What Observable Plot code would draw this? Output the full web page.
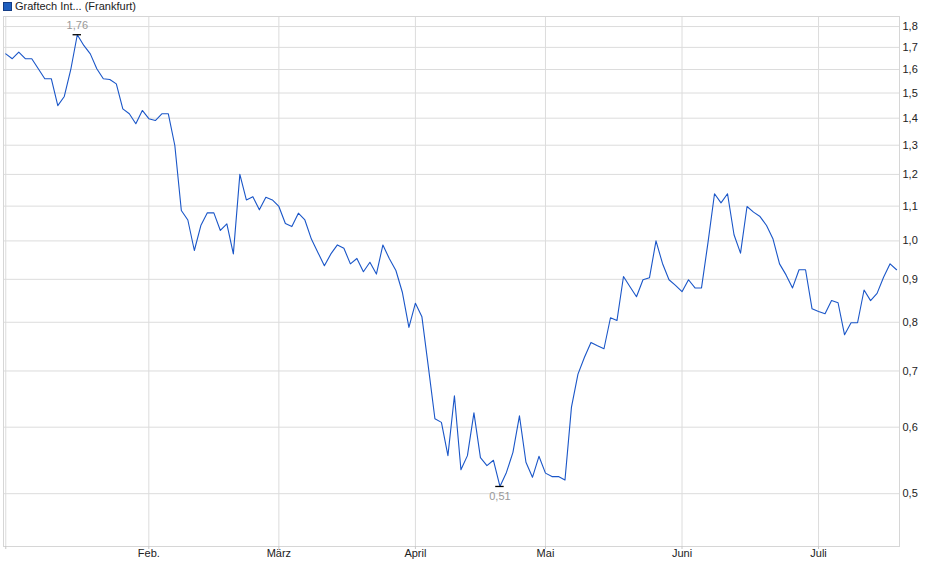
<!DOCTYPE html>
<html>
<head>
<meta charset="utf-8">
<script src="https://cdn.jsdelivr.net/npm/d3@7"></script>
<script src="https://cdn.jsdelivr.net/npm/@observablehq/plot@0.6"></script>
<style>
  html, body { margin: 0; padding: 0; background: #fff; overflow: hidden; }
  body { font-family: "Liberation Sans", Arial, sans-serif; }
  #legend { position: relative; height: 14px; font-size: 11px; color: #222; }
  #legend .sw { position: absolute; left: 3px; top: 2px; width: 7px; height: 7px; background: #1f5fbf; border: 1px solid #143c85; }
  #legend .lb { position: absolute; left: 15px; top: 0px; line-height: 12px; white-space: nowrap; }
</style>
</head>
<body>
<div id="legend"><span class="sw"></span><span class="lb">Graftech Int... (Frankfurt)</span></div>
<div id="chart"></div>
<script>
// Daily closing prices (EUR), trading days from early January to mid July
const prices = [
  1.670, 1.648, 1.678, 1.648, 1.648, 1.603, 1.560, 1.560, 1.449, 1.486,
  1.600, 1.760, 1.709, 1.670, 1.603, 1.560, 1.557, 1.538, 1.436, 1.417,
  1.379, 1.430, 1.398, 1.391, 1.417, 1.417, 1.299, 1.087, 1.059, 0.974,
  1.043, 1.080, 1.080, 1.029, 1.048, 0.965, 1.200, 1.119, 1.129, 1.089,
  1.127, 1.119, 1.099, 1.049, 1.040, 1.079, 1.059, 1.005, 0.969, 0.934,
  0.965, 0.989, 0.980, 0.939, 0.953, 0.919, 0.943, 0.913, 0.989, 0.952,
  0.922, 0.868, 0.789, 0.843, 0.812, 0.707, 0.614, 0.608, 0.555, 0.654,
  0.534, 0.555, 0.624, 0.552, 0.540, 0.548, 0.510, 0.530, 0.560, 0.619,
  0.545, 0.523, 0.554, 0.529, 0.524, 0.524, 0.519, 0.634, 0.694, 0.727,
  0.757, 0.750, 0.744, 0.810, 0.804, 0.907, 0.882, 0.858, 0.899, 0.904,
  1.000, 0.940, 0.899, 0.885, 0.870, 0.899, 0.879, 0.879, 0.996, 1.138,
  1.110, 1.138, 1.017, 0.967, 1.099, 1.082, 1.069, 1.043, 1.005, 0.939,
  0.911, 0.879, 0.924, 0.924, 0.830, 0.824, 0.819, 0.849, 0.844, 0.773,
  0.799, 0.799, 0.874, 0.849, 0.866, 0.905, 0.939, 0.924
];

// Month tick labels and the trading-day index of their first session
const monthLabels = ["Feb.", "März", "April", "Mai", "Juni", "Juli"];
const monthIndex = [22, 42, 63, 83, 104, 125];

// Y axis tick values
const yTicks = [0.5, 0.6, 0.7, 0.8, 0.9, 1.0, 1.1, 1.2, 1.3, 1.4, 1.5, 1.6, 1.7, 1.8];

const data = prices.map((v, i) => ({ i, v }));
const iMax = d3.maxIndex(prices);
const iMin = d3.minIndex(prices);
const fmt1 = v => v.toFixed(1).replace(".", ",");
const fmt2 = v => v.toFixed(2).replace(".", ",");
const xTicks = [0, ...monthIndex];
const xLabel = d => { const k = monthIndex.indexOf(d); return k < 0 ? "" : monthLabels[k]; };

const chart = Plot.plot({
  width: 940,
  height: 565,
  marginTop: 2,
  marginBottom: 33,
  marginLeft: 3,
  marginRight: 41,
  style: { fontFamily: "Liberation Sans, Arial, sans-serif", fontSize: "11px", color: "#222", background: "#fff", overflow: "visible" },
  x: { domain: [-0.35, prices.length - 1 + 0.45], axis: null, label: null },
  y: { type: "log", domain: [0.4326, 1.8502], axis: null, label: null },
  marks: [
    Plot.gridX(xTicks, { stroke: "#dcdcdc", strokeOpacity: 1 }),
    Plot.gridY(yTicks, { stroke: "#dcdcdc", strokeOpacity: 1 }),
    Plot.frame({ stroke: "#d6d6d6" }),
    Plot.axisX(xTicks, { label: null, tickFormat: xLabel, tickSize: 3, tickPadding: 0, stroke: "#c8c8c8", fill: "#222" }),
    Plot.axisY(yTicks, { label: null, anchor: "right", tickFormat: fmt1, tickSize: 0, tickPadding: 3, fill: "#222" }),
    Plot.line(data, { x: "i", y: "v", stroke: "#1a56c8", strokeWidth: 1.1 }),
    Plot.ruleY([iMax, iMin], { y: i => prices[i], x1: i => i - 0.65, x2: i => i + 0.65, stroke: "#000", strokeWidth: 1.3 }),
    Plot.text([iMax], { x: i => i, y: i => prices[i], text: i => fmt2(prices[i]), dy: -9, fill: "#999" }),
    Plot.text([iMin], { x: i => i, y: i => prices[i], text: i => fmt2(prices[i]), dy: 10, fill: "#999" })
  ]
});
document.getElementById("chart").appendChild(chart);
</script>
</body>
</html>
